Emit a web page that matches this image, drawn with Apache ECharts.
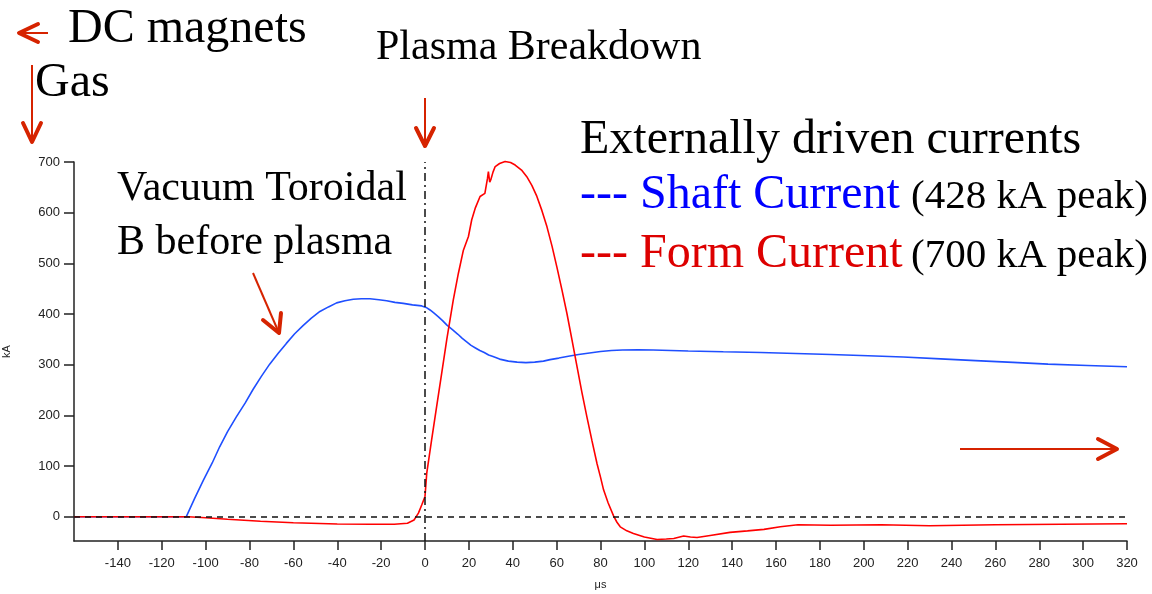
<!DOCTYPE html>
<html>
<head>
<meta charset="utf-8">
<script src="https://cdn.jsdelivr.net/npm/echarts@6/dist/echarts.min.js"></script>
<style>
html, body { margin: 0; padding: 0; background: #fff; }
#chart { width: 1152px; height: 594px; }
</style>
</head>
<body>
<div id="chart"></div>
<script>
// 横轴刻度 (μs) 与纵轴刻度 (kA)
var xTicks = [-140, -120, -100, -80, -60, -40, -20, 0, 20, 40, 60, 80, 100, 120, 140, 160, 180, 200, 220, 240, 260, 280, 300, 320]
var yTicks = [0, 100, 200, 300, 400, 500, 600, 700]

// Shaft Current (蓝)
var shaftTime = [-160, -108.8, -105, -101, -97, -93.6, -90, -86, -82, -78.4, -74.6, -70.8, -67, -63.2, -59.4, -55.6, -51.8, -47.9, -44, -40.3, -36.5, -32.7, -29, -25.1, -21, -17.5, -13.7, -9.9, -5.7, -1.5, 0.5, 2.3, 4, 6, 8, 10, 12.5, 15, 17, 19, 21, 23, 25, 27, 29, 31, 34, 38, 42, 46, 50, 54, 57, 61, 66, 70, 75, 80, 85, 90, 97, 104, 112, 120, 136, 153, 169, 185, 202, 218, 235, 251, 268, 284, 302, 320]
var shaftKA = [0, 0, 36, 72, 106, 138, 168, 197, 224, 251, 277, 301, 322, 342, 361, 377, 392, 405, 414, 422, 426, 429, 430, 430, 428, 426, 423, 421, 418, 416, 413, 408, 402, 395, 387, 378, 369, 360, 352, 345, 338, 333, 328, 324, 319, 316, 311, 307, 305, 304, 305, 307, 310, 313, 317, 320, 323, 326, 328, 329, 329.5, 329, 328, 327, 325.5, 324, 322, 320, 317.5, 315, 311.5, 308, 304.5, 301, 298.5, 296]

// Form Current (红)
var formTime = [-160, -140, -120, -108, -100, -90, -75, -60, -40, -25, -14, -8, -5, -3, -1.5, 0, 0.8, 3, 5.3, 7.6, 9.9, 12.9, 15.2, 17.5, 19.8, 21.3, 23, 25.1, 27.3, 27.9, 28.5, 28.9, 29.5, 30, 31, 32, 34, 36.5, 39, 41.1, 44, 46.4, 48.7, 51, 53.3, 55.6, 57.9, 60.1, 62.4, 64.7, 67, 69.3, 71.5, 73.8, 76.1, 78.4, 80, 81.4, 83.5, 86, 87.5, 89, 92, 95, 100, 105.8, 110, 113.4, 117.9, 121, 124, 130, 139, 147, 154.5, 162, 170, 185, 208, 230, 260, 290, 320]
var formKA = [0, 0, 0, 0, -2, -5, -9, -12, -14.5, -15, -15, -13, -6.5, 7, 23, 40, 86, 151, 217, 283, 349, 428, 480, 526, 553, 586, 610, 632, 638, 640, 668, 681, 660, 665, 680, 691, 697, 701, 699, 694, 684, 671, 654, 632, 604, 572, 534, 493, 448, 401, 349, 296, 246, 197, 150, 105, 78, 53, 27, 1, -11, -20, -28, -33, -40, -45, -44, -43, -38, -40, -41, -37, -31, -28, -25, -20, -16, -17, -16, -18, -16, -15, -14]

function pairs(ts, vs) {
	return ts.map(function (t, i) { return [t, vs[i]] })
}

var arrowColor = '#d62300'
var serif = '"Liberation Serif", "Times New Roman", serif'

// 注释文字
function label(text, x, y, size, color) {
	return {
		type: 'text',
		x: x,
		y: y,
		style: {
			text: text,
			font: size + 'px ' + serif,
			fill: color || '#000',
			verticalAlign: 'middle'
		}
	}
}

// 箭头: 直线 + 箭头头部
function arrow(x1, y1, x2, y2, head) {
	return [
		{ type: 'line', shape: { x1: x1, y1: y1, x2: x2, y2: y2 }, style: { stroke: arrowColor, lineWidth: 2 } },
		{ type: 'polyline', shape: { points: head }, style: { stroke: arrowColor, lineWidth: 4, fill: null, lineCap: 'round', lineJoin: 'round' } }
	]
}

var graphics = [
	label('DC magnets', 68, 29, 48),
	label('Gas', 35, 83, 48),
	label('Plasma Breakdown', 376, 48, 42),
	label('Vacuum Toroidal', 117, 189, 42),
	label('B before plasma', 117, 243, 42),
	label('Externally driven currents', 580, 140, 48),
	label('--- Shaft Current', 580, 195, 48, '#0000ff'),
	label('(428 kA peak)', 911, 197, 41),
	label('--- Form Current', 580, 254, 48, '#dd0000'),
	label('(700 kA peak)', 911, 256, 41)
]
	.concat(arrow(48, 33, 19, 33, [[38, 24], [19, 33], [38, 42]]))
	.concat(arrow(32, 65, 32, 142, [[23, 123], [32, 142], [41, 123]]))
	.concat(arrow(425, 98, 425, 146, [[416, 128], [425, 146], [434, 128]]))
	.concat(arrow(253, 273, 279, 333, [[263, 320], [279, 333], [281, 313]]))
	.concat(arrow(960, 449, 1117, 449, [[1098, 439], [1117, 449], [1098, 459]]))

var chart = echarts.init(document.getElementById('chart'))
var option = {
	animation: false,
	backgroundColor: '#fff',
	grid: { left: 74, right: 25, top: 162, bottom: 53, containLabel: false, outerBoundsMode: 'none' },
	xAxis: {
		type: 'value',
		min: -160,
		max: 320,
		name: 'μs',
		nameLocation: 'middle',
		nameGap: 38,
		nameTextStyle: { fontSize: 11, color: '#222', fontFamily: 'Liberation Sans' },
		axisLine: { onZero: false, lineStyle: { color: '#222', width: 1.5 } },
		axisTick: { show: true, length: 9, customValues: xTicks, lineStyle: { color: '#222', width: 1.5 } },
		axisLabel: { customValues: xTicks, margin: 16, fontSize: 13, color: '#222', fontFamily: 'Liberation Sans' },
		splitLine: { show: false }
	},
	yAxis: {
		type: 'value',
		min: -48,
		max: 700,
		name: 'kA',
		nameLocation: 'middle',
		nameGap: 62,
		nameTextStyle: { fontSize: 11, color: '#222', fontFamily: 'Liberation Sans' },
		axisLine: { show: true, onZero: false, lineStyle: { color: '#222', width: 1.5 } },
		axisTick: { show: true, length: 10, customValues: yTicks, lineStyle: { color: '#222', width: 1.5 } },
		axisLabel: { customValues: yTicks, margin: 14, fontSize: 13, color: '#222', fontFamily: 'Liberation Sans' },
		splitLine: { show: false }
	},
	series: [
		{
			name: 'Shaft Current',
			type: 'line',
			data: pairs(shaftTime, shaftKA),
			showSymbol: false,
			lineStyle: { color: '#1f4fff', width: 1.6 },
			markLine: {
				silent: true,
				symbol: 'none',
				label: { show: false },
				lineStyle: { color: '#111', type: [6, 5], width: 1.5 },
				data: [{ yAxis: 0 }]
			}
		},
		{
			name: 'Form Current',
			type: 'line',
			data: pairs(formTime, formKA),
			showSymbol: false,
			clip: false,
			lineStyle: { color: '#ff0000', width: 1.6 },
			markLine: {
				silent: true,
				symbol: 'none',
				label: { show: false },
				lineStyle: { color: '#111', type: [8, 4, 2, 4], width: 1.5 },
				data: [{ xAxis: 0 }]
			}
		}
	],
	graphic: graphics
}
chart.setOption(option)
</script>
</body>
</html>
